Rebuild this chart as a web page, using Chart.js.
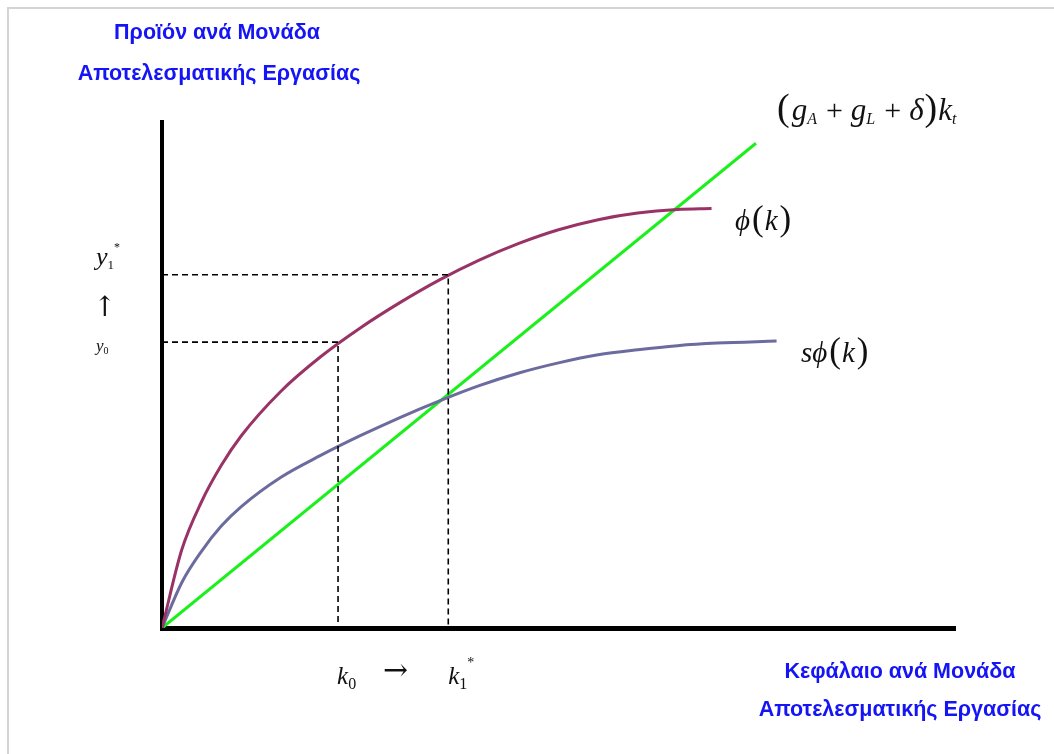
<!DOCTYPE html>
<html>
<head>
<meta charset="utf-8">
<script src="https://cdn.jsdelivr.net/npm/chart.js@4"></script>
<style>
  html, body { margin: 0; padding: 0; background: #fff; }
  #wrap { width: 1054px; height: 754px; position: relative; }
</style>
</head>
<body>
<div id="wrap"><canvas id="Graph" width="1054" height="754"></canvas></div>
<script>
// capital per effective worker (k) and output per effective worker
const phiK  = [0, 0.25, 0.5, 0.75, 1.0, 1.5, 2.0, 2.5, 3.0, 3.5, 4.0, 4.5, 5.0, 5.5, 6.0, 6.5, 6.93];
const phiY  = [0, 1.55, 2.50, 3.22, 3.80, 4.68, 5.36, 5.93, 6.43, 6.88, 7.27, 7.60, 7.87, 8.07, 8.20, 8.27, 8.29];

const sphiK = [0, 0.25, 0.5, 0.75, 1.0, 1.5, 2.0, 2.5, 3.0, 3.5, 4.0, 4.5, 5.0, 5.5, 6.0, 6.5, 7.0, 7.75];
const sphiY = [0, 0.90, 1.52, 2.02, 2.40, 2.98, 3.41, 3.80, 4.16, 4.49, 4.79, 5.04, 5.24, 5.40, 5.50, 5.58, 5.63, 5.67];

// (gA + gL + delta) k line
const lineK = [0, 7.49];
const lineY = [0, 9.58];

// marked levels
const k0 = 2.22, k1 = 3.61;
const y0 = 5.65, y1 = 6.98;

const toPts = (xs, ys) => xs.map((x, i) => ({ x: x, y: ys[i] }));

const MAROON = "#993366";
const SLATE = "#6b6b9f";
const GREEN = "#1cf01c";
const BLUE = "#1414f5";

const canvas = document.getElementById("Graph");

// text runs: each part {t, size, it, dy, gap, fam}
function drawRuns(ctx, x, y, parts) {
  let cx = x;
  parts.forEach(p => {
    const fam = p.fam || '"Liberation Serif", "DejaVu Serif", serif';
    ctx.font = (p.it ? "italic " : "") + p.size + "px " + fam;
    ctx.fillText(p.t, cx, y + (p.dy || 0));
    cx += ctx.measureText(p.t).width + (p.gap || 0);
  });
}

const labels = {
  id: "labels",
  beforeDraw(chart) {
    const ctx = chart.ctx;
    ctx.save();
    ctx.strokeStyle = "#d4d4d4";
    ctx.lineWidth = 2;
    ctx.beginPath();
    ctx.moveTo(8, 760);
    ctx.lineTo(8, 8);
    ctx.lineTo(1060, 8);
    ctx.stroke();
    ctx.restore();
  },
  afterDraw(chart) {
    const ctx = chart.ctx;
    const xs = chart.scales.x, ys = chart.scales.y;
    ctx.save();

    // blue axis titles
    ctx.fillStyle = BLUE;
    ctx.textAlign = "center";
    ctx.textBaseline = "alphabetic";
    ctx.font = 'bold 21.5px "Liberation Sans", Arial, sans-serif';
    ctx.fillText("Προϊόν ανά Μονάδα", 217, 39);
    ctx.fillText("Αποτελεσματικής Εργασίας", 219, 80);
    ctx.fillText("Κεφάλαιο ανά Μονάδα", 900, 678);
    ctx.fillText("Αποτελεσματικής Εργασίας", 900, 716);

    // math labels
    ctx.fillStyle = "#111";
    ctx.textAlign = "left";
    drawRuns(ctx, 777, 120, [
      { t: "(", size: 38, gap: 2 },
      { t: "g", size: 31, it: true },
      { t: "A", size: 16, it: true, dy: 4, gap: 9 },
      { t: "+", size: 30, gap: 8 },
      { t: "g", size: 31, it: true },
      { t: "L", size: 16, it: true, dy: 4, gap: 9 },
      { t: "+", size: 30, gap: 8 },
      { t: "δ", size: 31, it: true, gap: 1 },
      { t: ")", size: 38, gap: 1 },
      { t: "k", size: 31, it: true },
      { t: "t", size: 16, it: true, dy: 4 }
    ]);
    drawRuns(ctx, 735, 230, [
      { t: "ϕ", size: 29, it: true, gap: 2 },
      { t: "(", size: 35, gap: 1 },
      { t: "k", size: 29, it: true, gap: 2 },
      { t: ")", size: 35 }
    ]);
    drawRuns(ctx, 801, 362, [
      { t: "s", size: 29, it: true },
      { t: "ϕ", size: 29, it: true, gap: 2 },
      { t: "(", size: 35, gap: 1 },
      { t: "k", size: 29, it: true, gap: 2 },
      { t: ")", size: 35 }
    ]);

    // k0 -> k1* under the axis
    const px0 = xs.getPixelForValue(k0), px1 = xs.getPixelForValue(k1);
    drawRuns(ctx, px0 - 1, 684, [
      { t: "k", size: 25, it: true },
      { t: "0", size: 16, dy: 5 }
    ]);
    drawRuns(ctx, 383, 680, [{ t: "→", size: 30, fam: '"DejaVu Serif", serif' }]);
    drawRuns(ctx, px1, 684, [
      { t: "k", size: 25, it: true },
      { t: "1", size: 16, dy: 5 },
      { t: "*", size: 14, dy: -17 }
    ]);

    // y0 -> y1* beside the vertical axis
    const py0 = ys.getPixelForValue(y0), py1 = ys.getPixelForValue(y1);
    drawRuns(ctx, 96, py1 - 10, [
      { t: "y", size: 26, it: true },
      { t: "1", size: 13, dy: 4 },
      { t: "*", size: 12, dy: -14 }
    ]);
    drawRuns(ctx, 93, 316, [{ t: "↑", size: 28, fam: '"DejaVu Serif", serif' }]);
    drawRuns(ctx, 96, py0 + 9, [
      { t: "y", size: 17, it: true },
      { t: "0", size: 10, dy: 3 }
    ]);
    ctx.restore();
  }
};

const dashStyle = {
  borderColor: "#000",
  borderWidth: 1.6,
  borderDash: [6, 4],
  pointRadius: 0,
  tension: 0,
  fill: false
};

const config = {
  type: "line",
  data: {
    datasets: [
      Object.assign({ label: "y1*", data: [{ x: 0, y: y1 }, { x: k1, y: y1 }, { x: k1, y: 0 }] }, dashStyle),
      Object.assign({ label: "y0", data: [{ x: 0, y: y0 }, { x: k0, y: y0 }, { x: k0, y: 0 }] }, dashStyle),
      {
        label: "phi(k)",
        data: toPts(phiK, phiY),
        borderColor: MAROON,
        borderWidth: 3,
        pointRadius: 0,
        cubicInterpolationMode: "monotone"
      },
      {
        label: "s phi(k)",
        data: toPts(sphiK, sphiY),
        borderColor: SLATE,
        borderWidth: 3,
        pointRadius: 0,
        cubicInterpolationMode: "monotone"
      },
      {
        label: "(gA+gL+d)k",
        data: toPts(lineK, lineY),
        borderColor: GREEN,
        borderWidth: 3,
        pointRadius: 0,
        tension: 0
      }
    ]
  },
  options: {
    responsive: false,
    animation: false,
    events: [],
    layout: { padding: { left: 162, right: 99, top: 122, bottom: 126 } },
    plugins: {
      legend: { display: false },
      tooltip: { enabled: false },
      title: { display: false }
    },
    scales: {
      x: {
        type: "linear",
        min: 0,
        max: 10,
        ticks: { display: false },
        grid: { display: false, drawTicks: false, tickLength: 0 },
        border: { display: true, color: "#000", width: 5 }
      },
      y: {
        type: "linear",
        min: 0,
        max: 10,
        ticks: { display: false },
        grid: { display: false, drawTicks: false, tickLength: 0 },
        border: { display: true, color: "#000", width: 4 }
      }
    }
  },
  plugins: [labels]
};

const chart = new Chart(canvas, config);
</script>
</body>
</html>
